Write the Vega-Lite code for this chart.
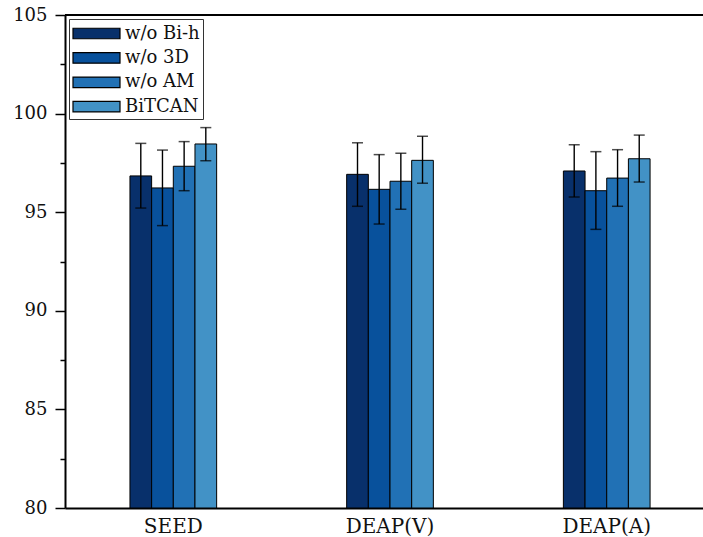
{
  "$schema": "https://vega.github.io/schema/vega-lite/v6.json",
  "autosize": "none",
  "width": 638,
  "height": 493,
  "padding": {"left": 65, "top": 15, "right": 0, "bottom": 29},
  "background": "white",
  "config": {
    "view": {"stroke": null},
    "font": "DejaVu Serif",
    "axis": {"domainColor": "black", "tickColor": "black", "labelColor": "#111", "domainWidth": 2, "tickWidth": 1.5, "grid": false}
  },
  "data": {
    "values": [
      {"dataset": "SEED", "model": "w/o Bi-h", "acc": 96.84, "lo": 95.21, "hi": 98.49},
      {"dataset": "SEED", "model": "w/o 3D", "acc": 96.23, "lo": 94.32, "hi": 98.15},
      {"dataset": "SEED", "model": "w/o AM", "acc": 97.33, "lo": 96.09, "hi": 98.58},
      {"dataset": "SEED", "model": "BiTCAN", "acc": 98.46, "lo": 97.61, "hi": 99.29},
      {"dataset": "DEAP(V)", "model": "w/o Bi-h", "acc": 96.92, "lo": 95.30, "hi": 98.52},
      {"dataset": "DEAP(V)", "model": "w/o 3D", "acc": 96.16, "lo": 94.40, "hi": 97.92},
      {"dataset": "DEAP(V)", "model": "w/o AM", "acc": 96.57, "lo": 95.15, "hi": 97.99},
      {"dataset": "DEAP(V)", "model": "BiTCAN", "acc": 97.63, "lo": 96.47, "hi": 98.85},
      {"dataset": "DEAP(A)", "model": "w/o Bi-h", "acc": 97.09, "lo": 95.77, "hi": 98.42},
      {"dataset": "DEAP(A)", "model": "w/o 3D", "acc": 96.09, "lo": 94.13, "hi": 98.07},
      {"dataset": "DEAP(A)", "model": "w/o AM", "acc": 96.73, "lo": 95.30, "hi": 98.17},
      {"dataset": "DEAP(A)", "model": "BiTCAN", "acc": 97.71, "lo": 96.53, "hi": 98.91}
    ]
  },
  "encoding": {
    "x": {
      "field": "dataset", "type": "nominal", "sort": ["SEED", "DEAP(V)", "DEAP(A)"],
      "scale": {"paddingInner": 0.6, "paddingOuter": 0.272, "align": 0.551},
      "axis": {"title": null, "labelAngle": 0, "ticks": false, "labelFontSize": 20, "labelPadding": 8, "labelColor": "#111"}
    },
    "xOffset": {
      "field": "model", "type": "nominal", "sort": ["w/o Bi-h", "w/o 3D", "w/o AM", "BiTCAN"],
      "scale": {"paddingInner": 0, "paddingOuter": 0}
    }
  },
  "layer": [
    {
      "mark": {"type": "bar", "stroke": "black", "strokeWidth": 1},
      "encoding": {
        "y": {
          "field": "acc", "type": "quantitative",
          "scale": {"domain": [80, 105], "zero": false, "nice": false},
          "axis": {
            "title": null,
            "values": [80, 82.5, 85, 87.5, 90, 92.5, 95, 97.5, 100, 102.5, 105],
            "labelExpr": "datum.value % 5 === 0 ? datum.label : ''",
            "tickSize": {"condition": {"test": "datum.value % 5 === 0", "value": 10}, "value": 5},
            "labelFontSize": 18,
            "labelPadding": 8
          }
        },
        "y2": {"datum": 80},
        "fill": {
          "field": "model", "type": "nominal",
          "scale": {"domain": ["w/o Bi-h", "w/o 3D", "w/o AM", "BiTCAN"], "range": ["#08306b", "#08519c", "#2171b5", "#4292c6"]},
          "legend": {
            "title": null,
            "orient": "top-left",
            "offset": 4,
            "padding": 3,
            "strokeColor": "#333",
            "fillColor": "white",
            "symbolType": "M-1,-0.5H3.476V0.5H-1Z",
            "symbolSize": 441,
            "symbolStrokeColor": "black",
            "symbolStrokeWidth": 1.2,
            "symbolOpacity": 1,
            "labelFontSize": 18,
            "labelColor": "#111",
            "labelOffset": 30,
            "rowPadding": 3.4
          }
        }
      }
    },
    {
      "mark": {"type": "rule", "color": "black", "strokeWidth": 1.4},
      "encoding": {
        "y": {"field": "lo", "type": "quantitative"},
        "y2": {"field": "hi"}
      }
    },
    {
      "mark": {"type": "tick", "orient": "horizontal", "color": "black", "size": 11, "thickness": 1.5},
      "encoding": {"y": {"field": "lo", "type": "quantitative"}}
    },
    {
      "mark": {"type": "tick", "orient": "horizontal", "color": "black", "size": 11, "thickness": 1.5},
      "encoding": {"y": {"field": "hi", "type": "quantitative"}}
    },
    {
      "data": {"values": [{"top": 105}]},
      "mark": {"type": "rule", "color": "black", "strokeWidth": 2},
      "encoding": {"y": {"field": "top", "type": "quantitative"}, "x": null, "xOffset": null}
    }
  ]
}
